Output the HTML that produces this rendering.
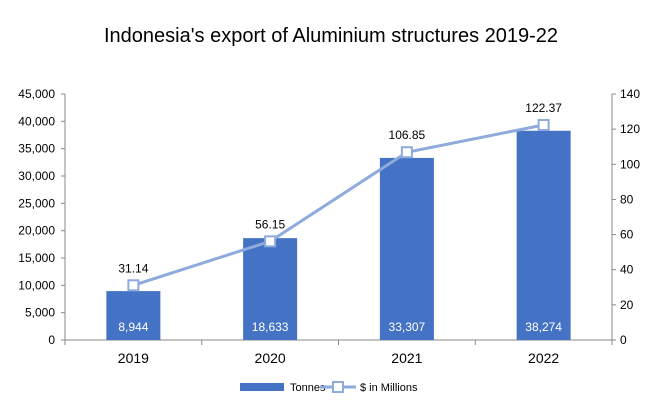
<!DOCTYPE html>
<html><head><meta charset="utf-8"><style>
body{margin:0;background:#fff;font-family:"Liberation Sans",sans-serif}
text{font-family:"Liberation Sans",sans-serif}
</style></head><body>
<svg id="c" width="662" height="408"></svg>
<script>
const categories=["2019","2020","2021","2022"];
const tonnes=[8944,18633,33307,38274];
const usd=[31.14,56.15,106.85,122.37];
const leftTicks=[0,5000,10000,15000,20000,25000,30000,35000,40000,45000];
const rightTicks=[0,20,40,60,80,100,120,140];
const svg=document.getElementById('c');
const NS='http://www.w3.org/2000/svg';
const X0=65,X1=612,Y0=340,Y1=94;
const yL=v=>Y0-(v/45000)*(Y0-Y1);
const yR=v=>Y0-(v/140)*(Y0-Y1);
const bw=(X1-X0)/categories.length;
const xc=i=>X0+bw*(i+0.5);
function el(t,a,txt){const e=document.createElementNS(NS,t);for(const k in a)e.setAttribute(k,a[k]);if(txt!=null)e.textContent=txt;svg.appendChild(e);return e;}
const fmt=v=>v.toLocaleString('en-US');
let t=el('text',{x:331,y:42,'text-anchor':'middle','font-size':20,fill:'#000'},"Indonesia's export of Aluminium structures 2019-22");

let a=el('line',{x1:X0,y1:Y1,x2:X0,y2:Y0,stroke:'#888'});
a=el('line',{x1:X1,y1:Y1,x2:X1,y2:Y0,stroke:'#888'});
a=el('line',{x1:X0,y1:Y0,x2:X1,y2:Y0,stroke:'#888'});
leftTicks.forEach(v=>{el('line',{x1:X0-4,y1:yL(v),x2:X0,y2:yL(v),stroke:'#888'});
 const e=el('text',{x:X0-10,y:yL(v)+4,'text-anchor':'end','font-size':12,fill:'#000'},fmt(v));
 });
rightTicks.forEach(v=>{el('line',{x1:X1,y1:yR(v),x2:X1+4,y2:yR(v),stroke:'#888'});
 const e=el('text',{x:X1+8,y:yR(v)+4,'text-anchor':'start','font-size':12,fill:'#000'},v);
 });
for(let i=0;i<=categories.length;i++)el('line',{x1:X0+bw*i,y1:Y0,x2:X0+bw*i,y2:Y0+5,stroke:'#888'});
categories.forEach((c,i)=>{
 const b=el('rect',{x:xc(i)-27,y:yL(tonnes[i]),width:54,height:Y0-yL(tonnes[i]),fill:'#4472C4'});
 
 const l=el('text',{x:xc(i),y:Y0-9,'text-anchor':'middle','font-size':12,fill:'#fff'},fmt(tonnes[i]));
 
 const x=el('text',{x:xc(i),y:Y0+23,'text-anchor':'middle','font-size':14,fill:'#000'},c);
 
});
const line=el('polyline',{points:usd.map((v,i)=>xc(i)+','+yR(v)).join(' '),fill:'none',stroke:'#8FAADC','stroke-width':3});

usd.forEach((v,i)=>{
 const m=el('rect',{x:xc(i)-5,y:yR(v)-5,width:10,height:10,fill:'#fff',stroke:'#8FAADC','stroke-width':2});
 
 const l=el('text',{x:xc(i),y:yR(v)-13,'text-anchor':'middle','font-size':12,fill:'#000'},v.toFixed(2));
 
});
let g=el('rect',{x:240,y:383,width:44,height:8,fill:'#4472C4'});
g=el('text',{x:290,y:391,'font-size':11,fill:'#000'},'Tonnes');
g=el('line',{x1:320,y1:387,x2:356,y2:387,stroke:'#8FAADC','stroke-width':3});
g=el('rect',{x:333,y:382,width:10,height:10,fill:'#fff',stroke:'#8FAADC','stroke-width':2});
g=el('text',{x:360,y:391,'font-size':11,fill:'#000'},'$ in Millions');
</script>
</body></html>
